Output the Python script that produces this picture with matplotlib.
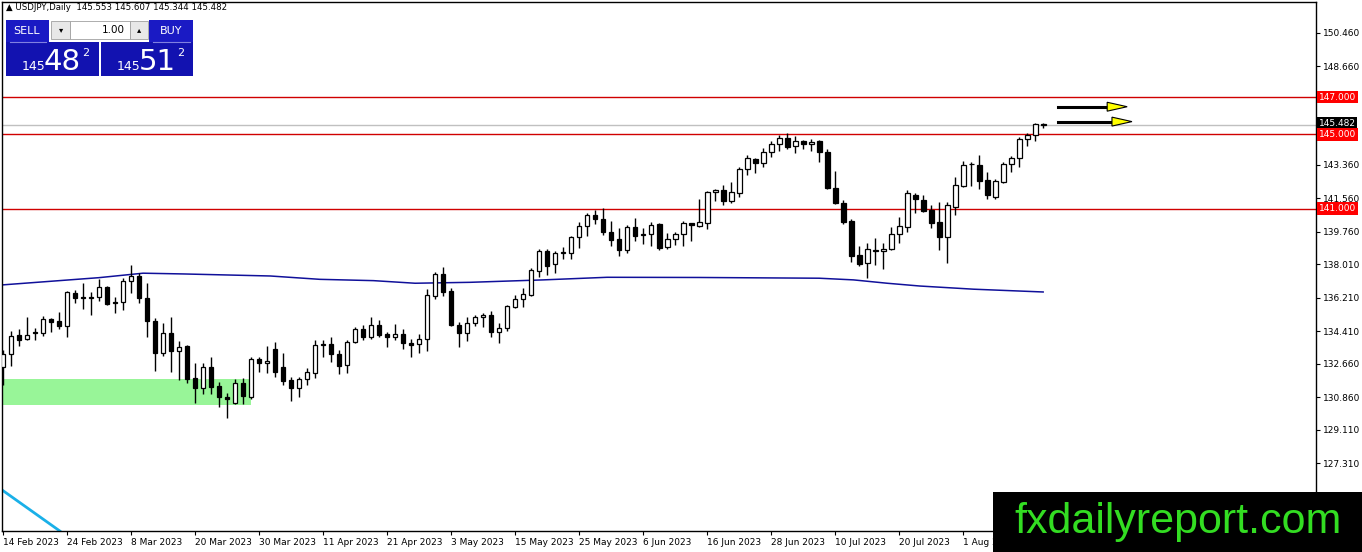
import numpy as np
import matplotlib.pyplot as plt
from matplotlib.patches import Rectangle, Polygon

# daily candles, index 0 = 14 Feb 2023
opens = [132.47, 133.17, 134.21, 133.98, 134.35, 134.30, 135.07, 134.96, 134.71, 136.48,
         136.25, 136.20, 136.24, 136.77, 136.00, 135.97, 137.13, 137.38, 136.18, 134.98,
         133.23, 134.30, 133.37, 133.62, 131.88, 131.34, 132.47, 131.47, 130.89, 130.57,
         131.61, 130.89, 132.92, 132.69, 133.44, 132.47, 131.79, 131.34, 131.83, 132.18,
         133.73, 133.71, 133.19, 132.58, 133.85, 134.53, 134.12, 134.75, 134.26, 134.09,
         134.26, 133.76, 133.73, 133.98, 136.31, 137.49, 136.59, 134.75, 134.30, 134.84,
         135.16, 135.28, 134.39, 134.57, 135.70, 136.13, 136.36, 137.67, 138.74, 138.01,
         138.63, 138.60, 139.46, 140.07, 140.66, 140.43, 139.76, 139.35, 138.78, 140.00,
         139.57, 139.64, 140.18, 138.92, 139.35, 139.64, 140.22, 140.09, 140.25, 141.90,
         142.00, 141.43, 141.86, 143.12, 143.66, 143.47, 144.03, 144.46, 144.79, 144.37,
         144.66, 144.48, 144.66, 144.03, 142.10, 141.29, 140.36, 138.51, 138.06, 138.74,
         138.70, 138.82, 139.62, 140.03, 141.74, 141.47, 140.93, 140.27, 139.46, 141.11,
         142.22, 143.40, 143.35, 142.54, 141.61, 142.45, 143.40, 143.71, 144.73, 144.96,
         145.553]
highs = [133.40, 134.42, 134.52, 135.16, 134.57, 135.25, 135.14, 135.45, 136.59, 136.63,
         136.99, 136.54, 137.20, 136.84, 136.24, 137.26, 137.97, 137.53, 137.02, 135.11,
         134.87, 135.16, 133.90, 133.67, 132.69, 132.69, 133.04, 131.70, 131.08, 131.83,
         131.88, 133.01, 133.01, 133.64, 133.85, 133.23, 131.94, 131.97, 132.42, 133.94,
         133.94, 134.09, 133.40, 133.94, 134.66, 134.75, 135.16, 135.02, 134.39, 134.80,
         134.52, 134.00, 134.26, 136.67, 137.61, 137.85, 136.72, 134.93, 135.16, 135.28,
         135.38, 135.50, 134.87, 135.82, 136.36, 136.72, 137.80, 138.82, 138.82, 138.74,
         138.96, 139.53, 140.30, 140.75, 140.93, 141.02, 140.36, 139.95, 140.12, 140.48,
         139.95, 140.30, 140.22, 139.71, 139.76, 140.36, 140.25, 141.50, 141.97, 142.04,
         142.27, 142.45, 143.26, 143.89, 143.71, 144.25, 144.66, 144.96, 145.05, 144.91,
         144.69, 144.73, 144.69, 144.19, 143.04, 141.47, 140.43, 138.99, 139.17, 139.41,
         139.17, 140.00, 140.54, 142.00, 141.86, 141.74, 141.20, 141.38, 141.38, 142.72,
         143.58, 143.53, 143.89, 142.99, 142.58, 143.53, 143.83, 144.84, 145.05, 145.62,
         145.607]
lows = [131.52, 132.54, 133.64, 133.94, 133.94, 134.17, 134.39, 134.52, 134.09, 135.95,
        135.59, 135.28, 136.05, 135.82, 135.41, 135.55, 136.48, 135.95, 134.12, 132.29,
        133.08, 132.24, 131.79, 131.61, 130.57, 131.04, 131.04, 130.36, 129.73, 130.50,
        130.50, 130.75, 132.24, 132.15, 131.97, 131.52, 130.68, 130.86, 131.52, 131.88,
        133.04, 132.77, 132.10, 132.18, 133.76, 133.94, 134.00, 134.09, 133.58, 133.94,
        133.44, 133.04, 133.23, 133.37, 136.13, 136.31, 134.69, 133.55, 133.90, 134.69,
        134.66, 134.12, 133.80, 134.44, 135.65, 135.73, 136.31, 137.31, 137.44, 137.53,
        138.28, 138.28, 138.87, 139.53, 140.18, 139.59, 138.99, 138.46, 138.63, 139.28,
        139.10, 138.99, 138.78, 138.82, 139.05, 138.99, 139.28, 140.00, 139.89, 141.43,
        141.20, 141.29, 141.61, 142.81, 142.94, 143.26, 143.76, 144.12, 144.19, 143.98,
        144.19, 144.10, 143.53, 142.04, 141.25, 140.18, 138.15, 137.92, 137.26, 137.97,
        137.74, 138.78, 139.14, 139.76, 140.75, 140.84, 139.95, 138.78, 138.10, 140.66,
        142.18, 142.22, 142.04, 141.50, 141.54, 142.40, 142.99, 143.26, 144.37, 144.66,
        145.344]
closes = [133.19, 134.17, 133.94, 134.21, 134.30, 135.05, 134.93, 134.71, 136.50, 136.18,
          136.20, 136.25, 136.77, 135.86, 135.91, 137.13, 137.38, 136.18, 134.98, 133.23,
          134.30, 133.37, 133.58, 131.83, 131.34, 132.47, 131.43, 130.86, 130.79, 131.61,
          130.93, 132.90, 132.69, 132.81, 132.24, 131.75, 131.34, 131.84, 132.20, 133.67,
          133.66, 133.17, 132.54, 133.85, 134.53, 134.12, 134.75, 134.21, 134.12, 134.26,
          133.76, 133.69, 133.98, 136.36, 137.49, 136.54, 134.75, 134.30, 134.87, 135.16,
          135.28, 134.39, 134.60, 135.77, 136.13, 136.41, 137.71, 138.74, 137.92, 138.63,
          138.66, 139.46, 140.07, 140.66, 140.43, 139.76, 139.32, 138.78, 140.00, 139.53,
          139.62, 140.12, 138.87, 139.35, 139.64, 140.22, 140.11, 140.27, 141.91, 142.00,
          141.43, 141.91, 143.12, 143.71, 143.47, 144.03, 144.48, 144.79, 144.30, 144.66,
          144.46, 144.60, 144.03, 142.10, 141.29, 140.30, 138.47, 138.03, 138.82, 138.75,
          138.82, 139.62, 140.07, 141.83, 141.50, 140.89, 140.25, 139.49, 141.20, 142.26,
          143.35, 143.42, 142.51, 141.74, 142.51, 143.40, 143.71, 144.73, 144.96, 145.55,
          145.482]

date_labels = ["14 Feb 2023", "24 Feb 2023", "8 Mar 2023", "20 Mar 2023", "30 Mar 2023",
               "11 Apr 2023", "21 Apr 2023", "3 May 2023", "15 May 2023", "25 May 2023",
               "6 Jun 2023", "16 Jun 2023", "28 Jun 2023", "10 Jul 2023", "20 Jul 2023",
               "1 Aug 2023"]
label_step = 8

# moving average (read at some candle positions)
ma_idx = [-0.1, 12, 17.5, 22.5, 33.4, 39.6, 46.3, 51.5, 58.4, 67.5, 75.5, 87, 102,
          106.3, 110.5, 114.6, 121.3, 130]
ma_val = [136.90, 137.29, 137.53, 137.49, 137.38, 137.20, 137.13, 136.99, 137.04, 137.17,
          137.31, 137.30, 137.26, 137.17, 136.99, 136.84, 136.67, 136.52]

levels = [147.0, 145.0, 141.0]
last_price = 145.482
price_ticks = [150.46, 148.66, 146.91, 145.11, 143.36, 141.56, 139.76, 138.01, 136.21,
               134.41, 132.66, 130.86, 129.11, 127.31]
hidden_ticks = [146.91, 145.11]  # covered by the level boxes

zone_idx = [-0.1, 30.96]
zone_price = [130.45, 131.84]
trend_idx = [-0.2, 7.1]
trend_price = [125.9, 123.67]
arrow_y = [146.48, 145.68]
arrow_x0 = [131.9, 131.9]
arrow_x1 = [140.5, 141.1]

header = "\u25b2 USDJPY,Daily  145.553 145.607 145.344 145.482"

W, H = 1362, 552


def draw_chart(fig):
    ax = fig.add_axes([2 / W, 21 / H, 1314 / W, 529 / H])
    ax.set_xlim(-0.125, 164.1)
    ax.set_ylim(123.67, 152.11)

    o = np.array(opens); c = np.array(closes)
    x = np.arange(len(o))
    ax.vlines(x, lows, highs, color="black", linewidth=1, zorder=3)
    up = c >= o
    bot = np.minimum(o, c)
    hgt = np.maximum(np.abs(c - o), 0.02)
    ax.bar(x[up], hgt[up], bottom=bot[up], width=0.6, facecolor="white",
           edgecolor="black", linewidth=0.9, zorder=4)
    ax.bar(x[~up], hgt[~up], bottom=bot[~up], width=0.6, facecolor="black",
           edgecolor="black", linewidth=0.9, zorder=4)

    ax.plot(ma_idx, ma_val, color="#10109a", linewidth=1.1, zorder=2)
    ax.add_patch(Rectangle((zone_idx[0], zone_price[0]), zone_idx[1] - zone_idx[0],
                           zone_price[1] - zone_price[0], facecolor="#98f598",
                           edgecolor="none", zorder=1))
    ax.plot(trend_idx, trend_price, color="#1ab0e8", linewidth=2, zorder=2)

    for lv in levels:
        ax.axhline(lv, color="#d00000", linewidth=1, zorder=2)
    ax.axhline(last_price, color="#c0c0c0", linewidth=1, zorder=1)

    for y, xa, xb in zip(arrow_y, arrow_x0, arrow_x1):
        ax.plot([xa, xb - 2.3], [y, y], color="black", linewidth=2.2, zorder=5)
        ax.add_patch(Polygon([[xb - 2.5, y + 0.24], [xb, y], [xb - 2.5, y - 0.24]],
                             closed=True, facecolor="yellow", edgecolor="black",
                             linewidth=0.8, zorder=6))

    ax.yaxis.tick_right()
    ax.set_yticks(price_ticks)
    ax.set_yticklabels(["" if t in hidden_ticks else "%.3f" % t for t in price_ticks])
    ax.tick_params(axis="y", direction="out", length=3, width=0.8, pad=2,
                   labelsize=6.5, colors="black")
    ax.set_xticks(np.arange(len(date_labels)) * label_step)
    ax.set_xticklabels(date_labels)
    for lbl in ax.get_xticklabels():
        lbl.set_ha("left")
    ax.tick_params(axis="x", direction="out", length=3, width=0.8, pad=2,
                   labelsize=6.5, colors="black")
    for s in ax.spines.values():
        s.set_linewidth(1)

    tr = ax.get_yaxis_transform()
    ax.text(1.002, last_price + 0.12, "%.3f" % last_price, transform=tr, color="white",
            fontsize=6.5, va="center", ha="left", zorder=10, clip_on=False,
            bbox=dict(boxstyle="square,pad=0.2", fc="black", ec="none"))
    for lv in levels:
        ax.text(1.002, lv, "%.3f" % lv, transform=tr, color="white", fontsize=6.5,
                va="center", ha="left", zorder=11, clip_on=False,
                bbox=dict(boxstyle="square,pad=0.2", fc="red", ec="none"))
    return ax


def draw_overlay(fig):
    ov = fig.add_axes([0, 0, 1, 1], zorder=5)
    ov.set_xlim(0, W)
    ov.set_ylim(H, 0)
    ov.axis("off")

    ov.text(6, 8, header, fontsize=6.2, va="center", ha="left")

    blue = "#1a1ac4"
    ov.add_patch(Rectangle((6, 20), 43, 22, facecolor=blue, edgecolor="none"))
    ov.add_patch(Rectangle((149, 20), 44, 22, facecolor=blue, edgecolor="none"))
    ov.add_patch(Rectangle((6, 42), 93, 34, facecolor="#1212b0", edgecolor="none"))
    ov.add_patch(Rectangle((101, 42), 92, 34, facecolor="#1212b0", edgecolor="none"))
    ov.plot([10, 46], [42, 42], color="#8080e0", linewidth=0.8)
    ov.plot([153, 190], [42, 42], color="#8080e0", linewidth=0.8)
    ov.text(27, 31, "SELL", color="white", fontsize=8, ha="center", va="center")
    ov.text(171, 31, "BUY", color="white", fontsize=8, ha="center", va="center")
    # lot selector
    ov.add_patch(Rectangle((51, 21), 19, 18, facecolor="#e8e8e8", edgecolor="#a0a0a0", linewidth=0.6))
    ov.add_patch(Rectangle((70, 21), 60, 18, facecolor="white", edgecolor="#a0a0a0", linewidth=0.6))
    ov.add_patch(Rectangle((130, 21), 18, 18, facecolor="#e8e8e8", edgecolor="#a0a0a0", linewidth=0.6))
    ov.text(61, 30, "\u25be", fontsize=6, ha="center", va="center")
    ov.text(139, 30, "\u25b4", fontsize=6, ha="center", va="center")
    ov.text(125, 30, "1.00", fontsize=7.5, ha="right", va="center")

    for x0, big in [(22, "48"), (117, "51")]:
        ov.text(x0, 70, "145", color="white", fontsize=9, ha="left", va="baseline")
        ov.text(x0 + 22, 70, big, color="white", fontsize=21, ha="left", va="baseline")
        ov.text(x0 + 60, 48, "2", color="white", fontsize=8, ha="left", va="top")

    ov.add_patch(Rectangle((993, 492), 369, 60, facecolor="black", edgecolor="none"))
    ov.text(1178, 533, "fxdailyreport.com", color="#33dd22", fontsize=31,
            family="Liberation Sans", ha="center", va="baseline")


def main():
    fig = plt.figure(figsize=(W / 100, H / 100), dpi=100)
    draw_chart(fig)
    draw_overlay(fig)
    fig.savefig("out.png", dpi=100)


if __name__ == "__main__":
    main()
